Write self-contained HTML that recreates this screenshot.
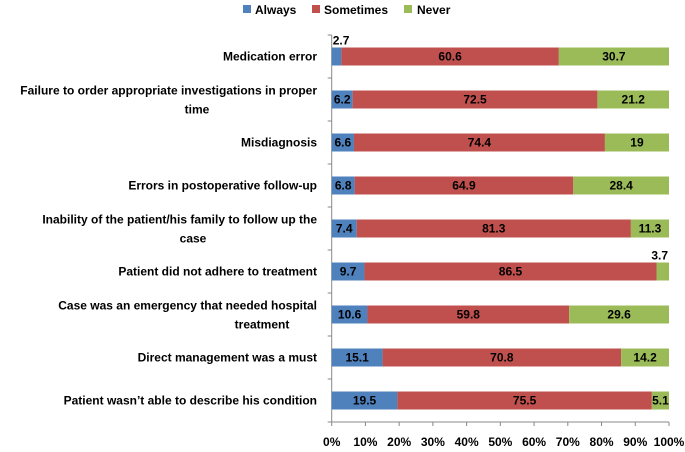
<!DOCTYPE html>
<html><head><meta charset="utf-8"><style>
body{margin:0;background:#fff}
text{font-family:"Liberation Sans",sans-serif;font-weight:bold;font-size:12px;fill:#000}
</style></head><body>
<svg id="chart" width="685" height="447" viewBox="0 0 685 447">
<g id="legend">
<g><rect x="243" y="5" width="8" height="8" fill="#4f81bd"/><text x="255" y="14">Always</text></g>
<g><rect x="312" y="5" width="8" height="8" fill="#c0504d"/><text x="324" y="14">Sometimes</text></g>
<g><rect x="404" y="5" width="8" height="8" fill="#9bbb59"/><text x="417" y="14">Never</text></g>
</g>
<g id="plot"></g>
</svg>
<script>
const categories=[["Medication error"],["Failure to order appropriate investigations in proper","time"],["Misdiagnosis"],["Errors in postoperative follow-up"],["Inability of the patient/his family to follow up the","case"],["Patient did not adhere to treatment"],["Case was an emergency that needed hospital","treatment"],["Direct management was a must"],["Patient wasn\u2019t able to describe his condition"]];
const always=[2.7,6.2,6.6,6.8,7.4,9.7,10.6,15.1,19.5];
const sometimes=[60.6,72.5,74.4,64.9,81.3,86.5,59.8,70.8,75.5];
const never=[30.7,21.2,19,28.4,11.3,3.7,29.6,14.2,5.1];
const tickLabels=["0%","10%","20%","30%","40%","50%","60%","70%","80%","90%","100%"];
const secondLineX=[0,197,0,0,193,0,262,0,0];
const X0=331.7,X1=669,Y0=35,Y1=422;
const band=(Y1-Y0)/categories.length,barH=18;
const xs=p=>X0+(X1-X0)*p/100;
const yc=i=>Y0+band*(i+0.5);
const NS="http://www.w3.org/2000/svg";
const g=document.getElementById('plot');
function mk(t,a,txt){const e=document.createElementNS(NS,t);for(const k in a)e.setAttribute(k,a[k]);if(txt!=null)e.textContent=txt;g.appendChild(e);return e;}
let ax=mk('line',{x1:X0,y1:Y0,x2:X0,y2:Y1,stroke:'#888'});


let bx=mk('line',{x1:X0,y1:Y1,x2:X1,y2:Y1,stroke:'#888'});


for(let i=0;i<=categories.length;i++){mk('line',{x1:X0-4,y1:Y0+band*i,x2:X0,y2:Y0+band*i,stroke:'#888'});}
tickLabels.forEach((l,i)=>{const p=i*10;mk('line',{x1:xs(p),y1:Y1,x2:xs(p),y2:Y1+4,stroke:'#888'});
const t=mk('text',{x:xs(p),y:446,'text-anchor':'middle'},l);

});
const series=[[always,'#4f81bd','always'],[sometimes,'#c0504d','sometimes'],[never,'#9bbb59','never']];
categories.forEach((c,i)=>{
 const y=yc(i);
 if(c.length===1){const t=mk('text',{x:317,y:y+4,'text-anchor':'end'},c[0]);
  
  }
 else{const t=mk('text',{x:317,y:y-5,'text-anchor':'end'},c[0]);
  
  
  const t2=mk('text',{x:secondLineX[i],y:y+14,'text-anchor':'middle'},c[1]);
  
  }
 const tot=always[i]+sometimes[i]+never[i];let cum=0;
 series.forEach(([arr,col,nm],s)=>{
  const v=arr[i],p0=cum/tot*100,p1=(cum+v)/tot*100;cum+=v;
  const r=mk('rect',{x:xs(p0),y:y-barH/2,width:xs(p1)-xs(p0),height:barH,fill:col});
  
  
  let lx=(xs(p0)+xs(p1))/2,ly=y+4,anchor='middle';
  if(v<5){ly=y-12;if(s===0){lx=xs(p0)+1;anchor='start';}else{lx=xs(p1)-1;anchor='end';}}
  const t=mk('text',{x:lx,y:ly,'text-anchor':anchor},String(v));
  
  
 });
});
</script>
</body></html>
